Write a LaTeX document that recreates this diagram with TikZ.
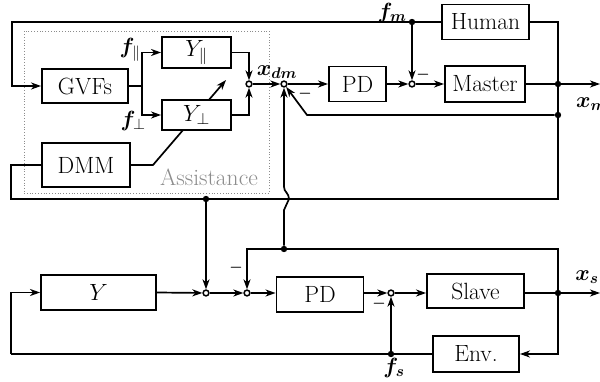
\RequirePackage{fix-cm}
\documentclass[tikz,border=0pt]{standalone}
\usepackage{amsmath,bm}
\usetikzlibrary{arrows.meta,backgrounds}
\begin{document}
\begin{tikzpicture}[x=1pt,y=-1pt,
  every node/.style={font=\fontsize{23.5}{27}\selectfont},
  wire/.style={line width=1.7pt},
  blk/.style={draw, fill=white, inner sep=0pt, line width=1.9pt},
  sumj/.style={circle, draw, fill=white, inner sep=0pt, minimum size=5.8pt, line width=1.5pt},
  dotj/.style={circle, fill=black, inner sep=0pt, minimum size=6.4pt},
  arr/.style={wire, -{Stealth[length=10pt,width=7pt,inset=3pt]}},
  lbl/.style={inner sep=0pt, font=\fontsize{22}{26}\selectfont},
  minus/.style={inner sep=0pt, font=\fontsize{15}{17}\selectfont},
]
\useasboundingbox (0,0) rectangle (600,382);

% assistance frame
\node[draw=black!45, dotted, line width=0.8pt, inner sep=0pt,
      minimum width=245pt, minimum height=162pt] (assist) at (146.5,112) {};
\node[inner sep=0pt, text=black!45] (assistlbl) at (209,177) {Assistance};

% blocks
\node[blk, minimum width=86pt, minimum height=34pt] (gvf) at (85,86) {GVFs};
\node[blk, minimum width=88pt, minimum height=44pt] (dmm) at (86,165) {DMM};
\node[blk, minimum width=69pt, minimum height=31pt] (ypar) at (196.5,52.5) {$Y_{\|}$};
\node[blk, minimum width=69pt, minimum height=30pt] (yperp) at (196.5,115) {$Y_{\perp}$};
\node[blk, minimum width=57pt, minimum height=35pt] (pda) at (357.5,84) {PD};
\node[blk, minimum width=87pt, minimum height=35pt] (human) at (485.5,22) {Human};
\node[blk, minimum width=80pt, minimum height=36pt] (master) at (485,84) {Master};
\node[blk, minimum width=115pt, minimum height=35pt] (ybox) at (98.5,292.5) {$Y$};
\node[blk, minimum width=87pt, minimum height=35pt] (pdb) at (320,294.5) {PD};
\node[blk, minimum width=97pt, minimum height=34pt] (slave) at (475.5,291) {Slave};
\node[blk, minimum width=86pt, minimum height=36pt] (env) at (476,354) {Env.};

% junctions
\node[sumj] (j1) at (249,84) {};
\node[sumj] (j2) at (284,84) {};
\node[sumj] (j3) at (412,84) {};
\node[sumj] (j4) at (206,293) {};
\node[sumj] (j5) at (247,293) {};
\node[sumj] (j6) at (391,293) {};

% branch dots
\node[dotj] (dfm) at (412,22) {};
\node[dotj] (dxm) at (558,84) {};
\node[dotj] (dxm2) at (558,115) {};
\node[dotj] (dtop) at (206,199) {};
\node[dotj] (dxs1) at (284,249) {};
\node[dotj] (dxs) at (558,293) {};
\node[dotj] (dfs) at (391,354) {};

% helper coordinates
\coordinate (lt) at (12,22);
\coordinate (rtop) at (558,22);
\coordinate (rbot) at (558,199);
\coordinate (lbot) at (11,199);
\coordinate (br) at (142,86);
\coordinate (fb) at (307,115);
\coordinate (xmout) at (600,84);
\coordinate (xsout) at (600,293);
\coordinate (lb) at (11,354);
\coordinate (hopa) at (284,210);
\coordinate (hopb) at (289,199);
\coordinate (hopc) at (284,187);
\coordinate (dmmk) at (153,165);
\coordinate (gain) at (226,80);

% DMM gain arrow through Y_perp
\begin{pgfonlayer}{background}
\draw[arr] (dmm.east) -- (dmmk) -- (gain);
\end{pgfonlayer}

% master side
\draw[arr] (human.west) -- (lt) |- (gvf.west);
\draw[arr] (dfm) -- (j3);
\draw[wire] (human.east) -- (rtop) -- (rbot) -- (lbot) |- (dmm.west);
\draw[arr] (master.east) -- (xmout);
\draw[arr] (dxm2) -- (fb) -- (j2);
\draw[arr] (dtop) -- (j4);
\draw[wire] (gvf.east) -- (br);
\draw[arr] (br) |- (ypar.west);
\draw[arr] (br) |- (yperp.west);
\draw[arr] (ypar.east) -| (j1);
\draw[arr] (yperp.east) -| (j1);
\draw[arr] (j1) -- (j2);
\draw[arr] (j2) -- (pda.west);
\draw[arr] (pda.east) -- (j3);
\draw[arr] (j3) -- (master.west);
\draw[arr] (dxs1) -- (hopa) -- (hopb) .. controls (289,193) and (284,192) .. (hopc) -- (j2);

% slave side
\draw[arr] (ybox.east) -- (j4);
\draw[arr] (j4) -- (j5);
\draw[arr] (j5) -- (j5 -| pdb.west);
\draw[arr] (pdb.east |- j6) -- (j6);
\draw[arr] (j6) -- (j6 -| slave.west);
\draw[wire] (j6 -| slave.east) -- (dxs);
\draw[arr] (dxs) -- (xsout);
\draw[wire] (dxs) |- (dxs1);
\draw[arr] (dxs1) -| (j5);
\draw[arr] (dxs) |- (env.east);
\draw[wire] (env.west) -- (dfs) -- (lb);
\draw[arr] (lb) |- (ybox.west);
\draw[arr] (dfs) -- (j6);

% signs
\node[minus] (m1) at (305,94) {$\bm{-}$};
\node[minus] (m2) at (423,75) {$\bm{-}$};
\node[minus] (m3) at (236,268) {$\bm{-}$};
\node[minus] (m4) at (379,304) {$\bm{-}$};

% labels
\node[lbl] (lfm) at (392,13) {$\bm{f_m}$};
\node[lbl] (lfpar) at (130,50) {$\bm{f}_{\|}$};
\node[lbl] (lfperp) at (133,121) {$\bm{f}_{\perp}$};
\node[lbl] (lxdm) at (277,72) {$\bm{x_{dm}}$};
\node[lbl, anchor=west] (lxm) at (576,104) {$\bm{x_m}$};
\node[lbl] (lxs) at (587,277) {$\bm{x_s}$};
\node[lbl] (lfs) at (394,368) {$\bm{f_s}$};
\end{tikzpicture}
\end{document}
